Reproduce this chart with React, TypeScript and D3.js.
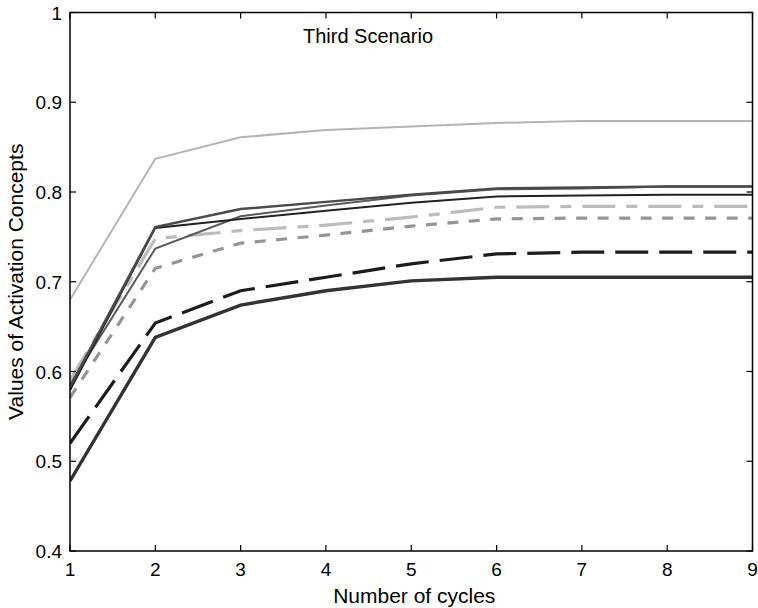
import React from "react";
import * as d3 from "d3";

const cycles = [1, 2, 3, 4, 5, 6, 7, 8, 9];
const xTicks = [1, 2, 3, 4, 5, 6, 7, 8, 9];
const yTicks = [0.4, 0.5, 0.6, 0.7, 0.8, 0.9, 1];

const seriesH = [0.68, 0.837, 0.861, 0.869, 0.873, 0.877, 0.879, 0.879, 0.879];
const seriesA = [0.583, 0.761, 0.781, 0.789, 0.797, 0.804, 0.805, 0.806, 0.806];
const seriesB = [0.585, 0.737, 0.773, 0.785, 0.796, 0.803, 0.804, 0.806, 0.806];
const seriesC = [0.579, 0.76, 0.77, 0.779, 0.788, 0.795, 0.796, 0.797, 0.797];
const seriesD = [0.59, 0.748, 0.757, 0.763, 0.772, 0.783, 0.784, 0.784, 0.784];
const seriesE = [0.571, 0.715, 0.743, 0.752, 0.762, 0.77, 0.771, 0.771, 0.771];
const seriesF = [0.52, 0.654, 0.69, 0.705, 0.72, 0.731, 0.733, 0.733, 0.733];
const seriesG = [0.478, 0.638, 0.674, 0.69, 0.701, 0.705, 0.705, 0.705, 0.705];

const styles = [
  { data: seriesH, color: "#b4b4b4", width: 2, dash: "" },
  { data: seriesD, color: "#bcbcbc", width: 3.2, dash: "33,11,11,11" },
  { data: seriesE, color: "#959595", width: 3.2, dash: "11,10.5" },
  { data: seriesF, color: "#1c1c1c", width: 3.2, dash: "33,11" },
  { data: seriesG, color: "#333333", width: 3.4, dash: "" },
  { data: seriesB, color: "#5a5a5a", width: 2, dash: "" },
  { data: seriesC, color: "#222222", width: 2, dash: "" },
  { data: seriesA, color: "#4a4a4a", width: 2.5, dash: "" },
];

const W = 758;
const H = 608;
const L = 70;
const R = 752.5;
const T = 12.5;
const B = 551;
const font = "'Liberation Sans', Arial, Helvetica, sans-serif";

export default function App() {
  const x = d3.scaleLinear().domain([1, 9]).range([L, R]);
  const y = d3.scaleLinear().domain([0.4, 1]).range([B, T]);
  const line = d3
    .line<number>()
    .x((_, i) => x(cycles[i]))
    .y((d) => y(d));
  const tl = 6;
  return (
    <svg
      width={W}
      height={H}
      style={{ position: "absolute", left: 0, top: 0, background: "#fff" }}
      fontFamily={font}
    >
      <rect x={0} y={0} width={W} height={H} fill="#fff" />
      <defs>
        <clipPath id="plot">
          <rect x={L} y={T} width={R - L} height={B - T} />
        </clipPath>
      </defs>
      <g clipPath="url(#plot)">
        {styles.map((s, i) => (
          <path
            key={i}
            d={line(s.data) || ""}
            fill="none"
            stroke={s.color}
            strokeWidth={s.width}
            strokeDasharray={s.dash || undefined}
          />
        ))}
      </g>
      <rect x={L} y={T} width={R - L} height={B - T} fill="none" stroke="#000" strokeWidth={1.5} />
      {xTicks.map((t) => (
        <g key={"x" + t}>
          <line x1={x(t)} x2={x(t)} y1={B} y2={B - tl} stroke="#000" strokeWidth={1.2} />
          <line x1={x(t)} x2={x(t)} y1={T} y2={T + tl} stroke="#000" strokeWidth={1.2} />
          <text x={x(t)} y={B + 25} textAnchor="middle" fontSize={19}>
            {t}
          </text>
        </g>
      ))}
      {yTicks.map((t) => (
        <g key={"y" + t}>
          <line x1={L} x2={L + tl} y1={y(t)} y2={y(t)} stroke="#000" strokeWidth={1.2} />
          <line x1={R} x2={R - tl} y1={y(t)} y2={y(t)} stroke="#000" strokeWidth={1.2} />
          <text x={L - 8} y={y(t) + 7} textAnchor="end" fontSize={19}>
            {String(t)}
          </text>
        </g>
      ))}
      <text x={(L + R) / 2 + 3} y={603} textAnchor="middle" fontSize={21}>
        Number of cycles
      </text>
      <text
        transform={`translate(23, ${(T + B) / 2}) rotate(-90)`}
        textAnchor="middle"
        fontSize={21}
      >
        Values of Activation Concepts
      </text>
      <text x={303} y={43} fontSize={20}>
        Third Scenario
      </text>
    </svg>
  );
}
